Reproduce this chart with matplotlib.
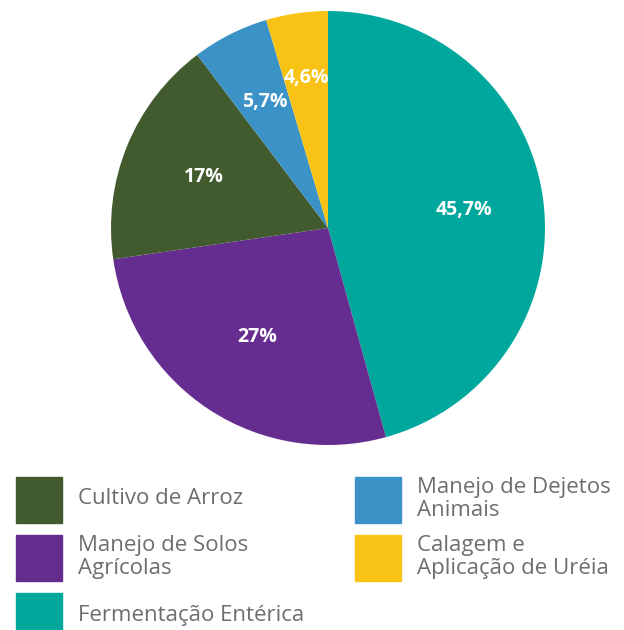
import matplotlib.pyplot as plt
from matplotlib.patches import Rectangle
import numpy as np

# dados (sentido horário a partir do topo)
setores = ['Fermentação Entérica', 'Manejo de Solos Agrícolas', 'Cultivo de Arroz',
           'Manejo de Dejetos Animais', 'Calagem e Aplicação de Uréia']
valores = [45.7, 27.0, 17.0, 5.7, 4.6]
rotulos = ['45,7%', '27%', '17%', '5,7%', '4,6%']
cores = ['#00A79D', '#662D91', '#425B2E', '#3A92C6', '#F8C315']

# legenda
leg_nomes = ['Cultivo de Arroz', 'Manejo de Solos\nAgrícolas', 'Fermentação Entérica',
             'Manejo de Dejetos\nAnimais', 'Calagem e\nAplicação de Uréia']
leg_cores = ['#425B2E', '#662D91', '#00A79D', '#3A92C6', '#F8C315']

W, H = 624, 630
fig = plt.figure(figsize=(W / 100, H / 100), dpi=100)
plt.rcParams['font.family'] = ['Open Sans', 'DejaVu Sans']

cx, cy, r = 328, 228, 217
ax = fig.add_axes([(cx - r) / W, (H - cy - r) / H, 2 * r / W, 2 * r / H])
wedges, _ = ax.pie(valores, colors=cores, startangle=90, counterclock=False,
                   wedgeprops=dict(linewidth=0))
ax.set_xlim(-1, 1)
ax.set_ylim(-1, 1)
ax.set_aspect('equal')
ax.axis('off')

dist = [0.63, 0.6, 0.62, 0.65, 0.7]
for w, txt, d in zip(wedges, rotulos, dist):
    ang = np.deg2rad((w.theta1 + w.theta2) / 2)
    ax.text(d * np.cos(ang), d * np.sin(ang), txt, ha='center', va='center',
            color='white', fontsize=14, fontweight='bold')

# legenda manual
posicoes = [(16, 477), (16, 535), (16, 593), (355, 477), (355, 535)]
for (x, y), nome, cor in zip(posicoes, leg_nomes, leg_cores):
    fig.patches.append(Rectangle((x / W, (H - y - 46) / H), 46 / W, 46 / H,
                                 transform=fig.transFigure, color=cor))
    fig.text((x + 62) / W, (H - y - 22) / H, nome, ha='left', va='center',
             fontsize=16, color='#6D6E71', linespacing=1.08)

fig.savefig('out.png', dpi=100)
